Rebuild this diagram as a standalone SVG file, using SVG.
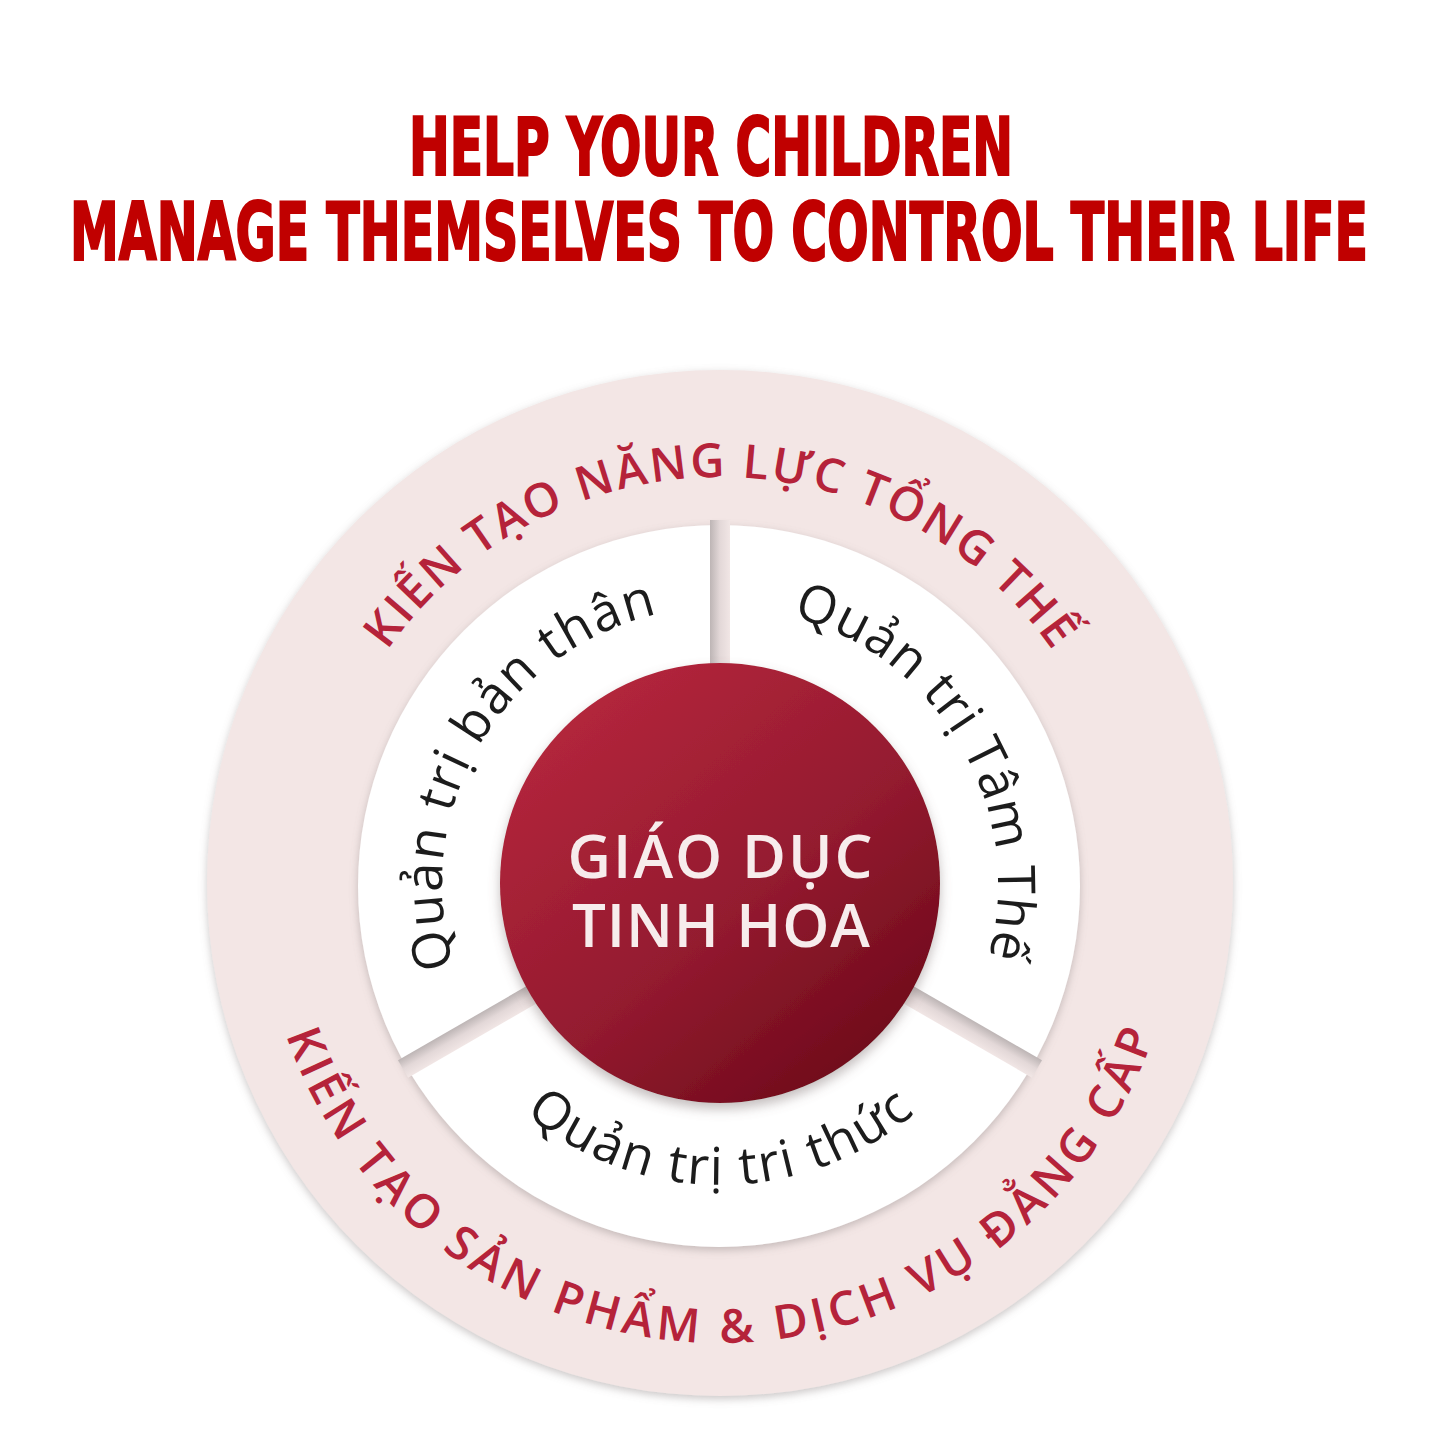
<svg xmlns="http://www.w3.org/2000/svg" width="1440" height="1440" viewBox="0 0 1440 1440">
  <style>
    .title { font-family: "Liberation Sans Narrow", "DejaVu Sans Condensed", "Liberation Sans", sans-serif; font-weight: 700; font-size: 80px; fill: #c00000; stroke: #c00000; stroke-width: 2.2; text-anchor: middle; }
    .ring { font-family: "Open Sans", "Noto Sans", sans-serif; font-weight: 600; font-size: 47px; fill: #b5233a; }
    .seg { font-family: "Open Sans", "Noto Sans", sans-serif; font-weight: 500; font-size: 52px; fill: #1c1c1c; }
    .core { font-family: "Open Sans", "Noto Sans", sans-serif; font-weight: 600; font-size: 60px; fill: #f7ecec; text-anchor: middle; }
  </style>
  <defs>
    <filter id="sh" x="-10%" y="-10%" width="120%" height="120%">
      <feDropShadow dx="0" dy="3" stdDeviation="4" flood-color="#8a8080" flood-opacity="0.45"/>
    </filter>
    <filter id="shR" x="-10%" y="-10%" width="120%" height="125%">
      <feDropShadow dx="0" dy="6" stdDeviation="6" flood-color="#7a6f70" flood-opacity="0.45"/>
    </filter>
    <linearGradient id="red" x1="0.15" y1="0.1" x2="0.85" y2="0.95">
      <stop offset="0" stop-color="#b4263c"/>
      <stop offset="0.55" stop-color="#931a2f"/>
      <stop offset="1" stop-color="#6c0919"/>
    </linearGradient>
    <linearGradient id="gapL" x1="0" y1="0" x2="1" y2="0">
      <stop offset="0" stop-color="#bdb5b5"/>
      <stop offset="0.5" stop-color="#e3d8d8"/>
      <stop offset="1" stop-color="#f1e6e5"/>
    </linearGradient>
    <linearGradient id="gapR" x1="1" y1="0" x2="0" y2="0">
      <stop offset="0" stop-color="#bdb5b5"/>
      <stop offset="0.5" stop-color="#e3d8d8"/>
      <stop offset="1" stop-color="#f1e6e5"/>
    </linearGradient>
    <path id="pTop" d="M 314 883 A 406 406 0 0 1 1126 883"/>
    <path id="pBot" d="M 260 883 A 460 460 0 0 0 1180 883"/>
    <path id="pLeft" d="M 479.2 1024 A 278 278 0 0 1 720 607"/>
    <path id="pRight" d="M 720 607 A 278 278 0 0 1 960.8 1024"/>
    <path id="pLow" d="M 460.2 1035 A 300 300 0 0 0 979.8 1035"/>
  </defs>

  <rect width="1440" height="1440" fill="#ffffff"/>

  <g id="title">
    <text class="title" x="711" y="175" textLength="604" lengthAdjust="spacingAndGlyphs">HELP YOUR CHILDREN</text>
    <text class="title" x="719" y="260" textLength="1298" lengthAdjust="spacingAndGlyphs">MANAGE THEMSELVES TO CONTROL THEIR LIFE</text>
  </g>

  <g id="outer-ring">
    <circle cx="720" cy="883" r="513" fill="#f3e6e5" filter="url(#sh)"/>
    <text class="ring"><textPath href="#pTop" startOffset="50%" text-anchor="middle" textLength="780">KIẾN TẠO NĂNG LỰC TỔNG THẾ</textPath></text>
    <text class="ring"><textPath href="#pBot" startOffset="50%" text-anchor="middle" textLength="1135">KIẾN TẠO SẢN PHẨM &amp; DỊCH VỤ ĐẲNG CẤP</textPath></text>
  </g>

  <g id="segments">
    <circle cx="719" cy="886" r="361" fill="#ffffff" filter="url(#sh)"/>
    <rect x="710" y="520" width="20" height="366" fill="url(#gapL)"/>
    <rect x="710" y="520" width="20" height="366" fill="url(#gapL)" transform="rotate(120 720 886)"/>
    <rect x="710" y="520" width="20" height="366" fill="url(#gapR)" transform="rotate(240 720 886)"/>
  </g>

  <g id="seg-self">
    <text class="seg"><textPath href="#pLeft" startOffset="50%" text-anchor="middle" textLength="456">Quản trị bản thân</textPath></text>
  </g>
  <g id="seg-mind">
    <text class="seg"><textPath href="#pRight" startOffset="50%" text-anchor="middle" textLength="436">Quản trị Tâm Thế</textPath></text>
  </g>
  <g id="seg-knowledge">
    <text class="seg"><textPath href="#pLow" startOffset="50%" text-anchor="middle" textLength="424">Quản trị tri thức</textPath></text>
  </g>

  <g id="core">
    <circle cx="720" cy="883" r="220" fill="url(#red)" filter="url(#shR)"/>
    <text class="core" x="720" y="878" textLength="305">GIÁO DỤC</text>
    <text class="core" x="721" y="947" textLength="298">TINH HOA</text>
  </g>
</svg>
